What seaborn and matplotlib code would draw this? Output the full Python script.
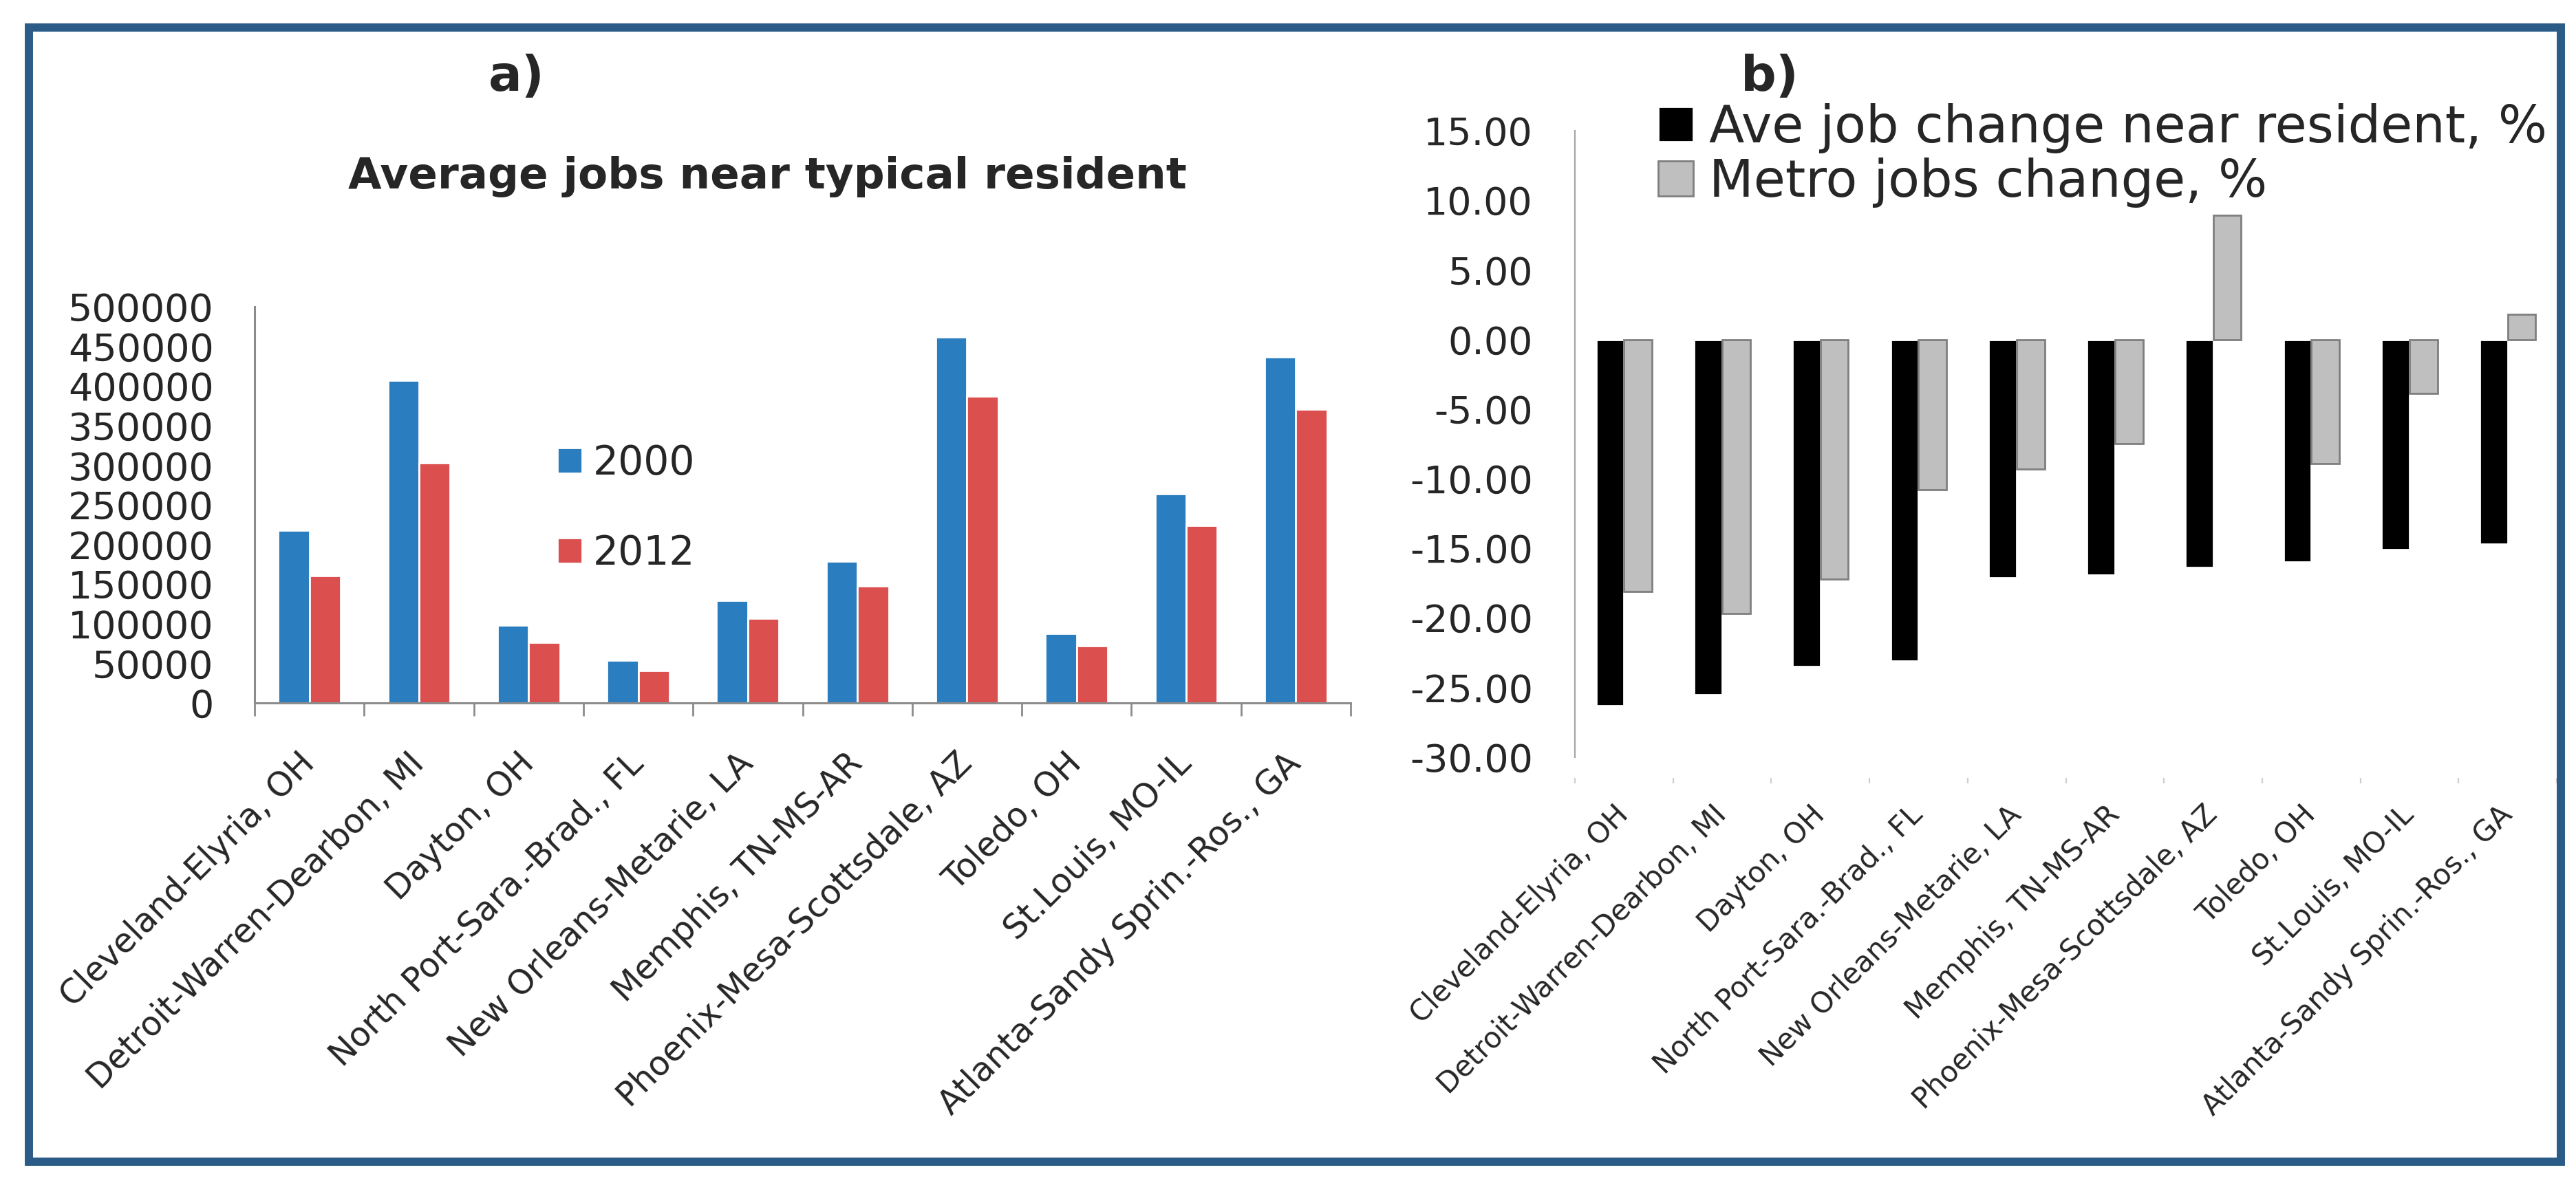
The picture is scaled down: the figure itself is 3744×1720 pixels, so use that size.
import numpy as np
import pandas as pd
import matplotlib
matplotlib.use("Agg")
from matplotlib import pyplot as plt
from matplotlib.patches import Rectangle
from matplotlib.ticker import FuncFormatter, MultipleLocator
import seaborn as sns

metros = ["Cleveland-Elyria, OH", "Detroit-Warren-Dearbon, MI", "Dayton, OH",
          "North Port-Sara.-Brad., FL", "New Orleans-Metarie, LA", "Memphis, TN-MS-AR",
          "Phoenix-Mesa-Scottsdale, AZ", "Toledo, OH", "St.Louis, MO-IL",
          "Atlanta-Sandy Sprin.-Ros., GA"]
jobs_2000 = [218000, 407000, 98000, 54000, 129000, 179000, 462000, 88000, 264000, 437000]
jobs_2012 = [161000, 303000, 76000, 41000, 107000, 148000, 387000, 72000, 224000, 371000]
resident_change = [-26.3, -25.5, -23.5, -23.1, -17.1, -16.9, -16.4, -16.0, -15.1, -14.7]
metro_change = [-18.1, -19.7, -17.2, -10.8, -9.3, -7.5, 8.9, -8.9, -3.9, 1.8]

years = ["2000", "2012"]
series_b = ["Ave job change near resident, %", "Metro jobs change, %"]

sns.set_style("white")
plt.rcParams['font.family'] = ['DejaVu Sans']
plt.rcParams['axes.unicode_minus'] = False

W, H = 3744, 1720
fig = plt.figure(figsize=(W / 200, H / 200), dpi=200, facecolor='white')

# panel a) data
jobsDF = pd.DataFrame({
    'metro': metros * 2,
    'jobs': jobs_2000 + jobs_2012,
    'year': [years[0]] * len(metros) + [years[1]] * len(metros)})
# panel b) data
changeDF = pd.DataFrame({
    'metro': metros * 2,
    'change': resident_change + metro_change,
    'series': [series_b[0]] * len(metros) + [series_b[1]] * len(metros)})

axis_grey = '#8c8c8c'

# ---------- panel a ----------
ax1 = fig.add_axes([370 / W, 1 - 1022 / H, (1963 - 370) / W, (1022 - 446) / H])
sns.barplot(data=jobsDF, x='metro', y='jobs', hue='year', order=metros, hue_order=years,
            palette=['#2a7dbf', '#db4f4f'], saturation=1, width=0.57, errorbar=None,
            ax=ax1, legend=False)
ax1.set_xlim(-0.5, 9.5)
ax1.set_ylim(0, 500000)
ax1.yaxis.set_major_locator(MultipleLocator(50000))
ax1.yaxis.set_major_formatter(FuncFormatter(lambda v, p: f"{v:.0f}"))
ax1.tick_params(axis='y', length=5.4, width=1.0, color=axis_grey, pad=16, labelsize=20)
ax1.set_xticks(range(len(metros)))
ax1.set_xticklabels(metros, rotation=45, ha='right', va='center', rotation_mode='anchor',
                    fontsize=17.5)
ax1.tick_params(axis='x', which='major', length=0, pad=29)
ax1.set_xticks(np.arange(-0.5, len(metros), 1), minor=True)
ax1.tick_params(axis='x', which='minor', length=7, width=1.0, color=axis_grey, bottom=True)
for side in ['top', 'right']:
    ax1.spines[side].set_visible(False)
for side in ['left', 'bottom']:
    ax1.spines[side].set_color(axis_grey)
    ax1.spines[side].set_linewidth(1.1)
ax1.set_xlabel('')
ax1.set_ylabel('')
ax1.legend(handles=list(ax1.containers), labels=years, loc='upper left',
           bbox_to_anchor=(810 / W, 1 - 645 / H), bbox_transform=fig.transFigure,
           frameon=False, fontsize=21, borderpad=0, handlelength=0.62, handleheight=0.62,
           handletextpad=0.26, labelspacing=1.27, borderaxespad=0)

# ---------- panel b ----------
ax2 = fig.add_axes([2289 / W, 1 - 1131 / H, (3716 - 2289) / W, (1131 - 190) / H])
sns.barplot(data=changeDF, x='metro', y='change', hue='series', order=metros,
            hue_order=series_b, palette=['#000000', '#bfbfbf'], saturation=1, width=0.57,
            errorbar=None, ax=ax2, legend=False)
for bar in ax2.containers[1]:
    bar.set_edgecolor('#7f7f7f')
    bar.set_linewidth(1.0)
ax2.set_xlim(-0.5, 9.5)
ax2.set_ylim(-31.5, 15)
ax2.yaxis.set_major_locator(MultipleLocator(5))
ax2.yaxis.set_major_formatter(FuncFormatter(lambda v, p: f"{v:.2f}"))
ax2.tick_params(axis='y', length=0, pad=22, labelsize=20)
ax2.set_xticks(range(len(metros)))
ax2.set_xticklabels(metros, rotation=45, ha='right', va='center', rotation_mode='anchor',
                    fontsize=15)
ax2.tick_params(axis='x', which='major', length=0, pad=17)
ax2.set_xticks(np.arange(-0.5, len(metros), 1), minor=True)
ax2.tick_params(axis='x', which='minor', length=3, width=0.8, color='#cfcfcf', bottom=True)
for side in ['top', 'right', 'bottom']:
    ax2.spines[side].set_visible(False)
ax2.spines['left'].set_bounds(-30, 15)
ax2.spines['left'].set_color('#a6a6a6')
ax2.spines['left'].set_linewidth(0.8)
ax2.set_xlabel('')
ax2.set_ylabel('')
ax2.legend(handles=list(ax2.containers), labels=series_b, loc='upper left',
           bbox_to_anchor=(2410 / W, 1 - 150 / H), bbox_transform=fig.transFigure,
           frameon=False, fontsize=27, borderpad=0, handlelength=0.68, handleheight=0.68,
           handletextpad=0.3, labelspacing=0.08, borderaxespad=0)

# titles and panel letters
fig.text(751 / W, 1 - 113 / H, "a)", fontsize=26, fontweight='bold', ha='center', va='center')
fig.text(2572 / W, 1 - 112 / H, "b)", fontsize=26, fontweight='bold', ha='center', va='center')
fig.text(1115 / W, 1 - 257 / H, "Average jobs near typical resident", fontsize=22.6,
         fontweight='bold', ha='center', va='center')

# outer frame
fig.add_artist(Rectangle((42 / W, 1 - 1689 / H), (3722 - 42) / W, (1689 - 40) / H,
                         transform=fig.transFigure, fill=False, edgecolor='#2b5b87',
                         linewidth=4.3))

fig.savefig("out.png", dpi=200, facecolor='white')
